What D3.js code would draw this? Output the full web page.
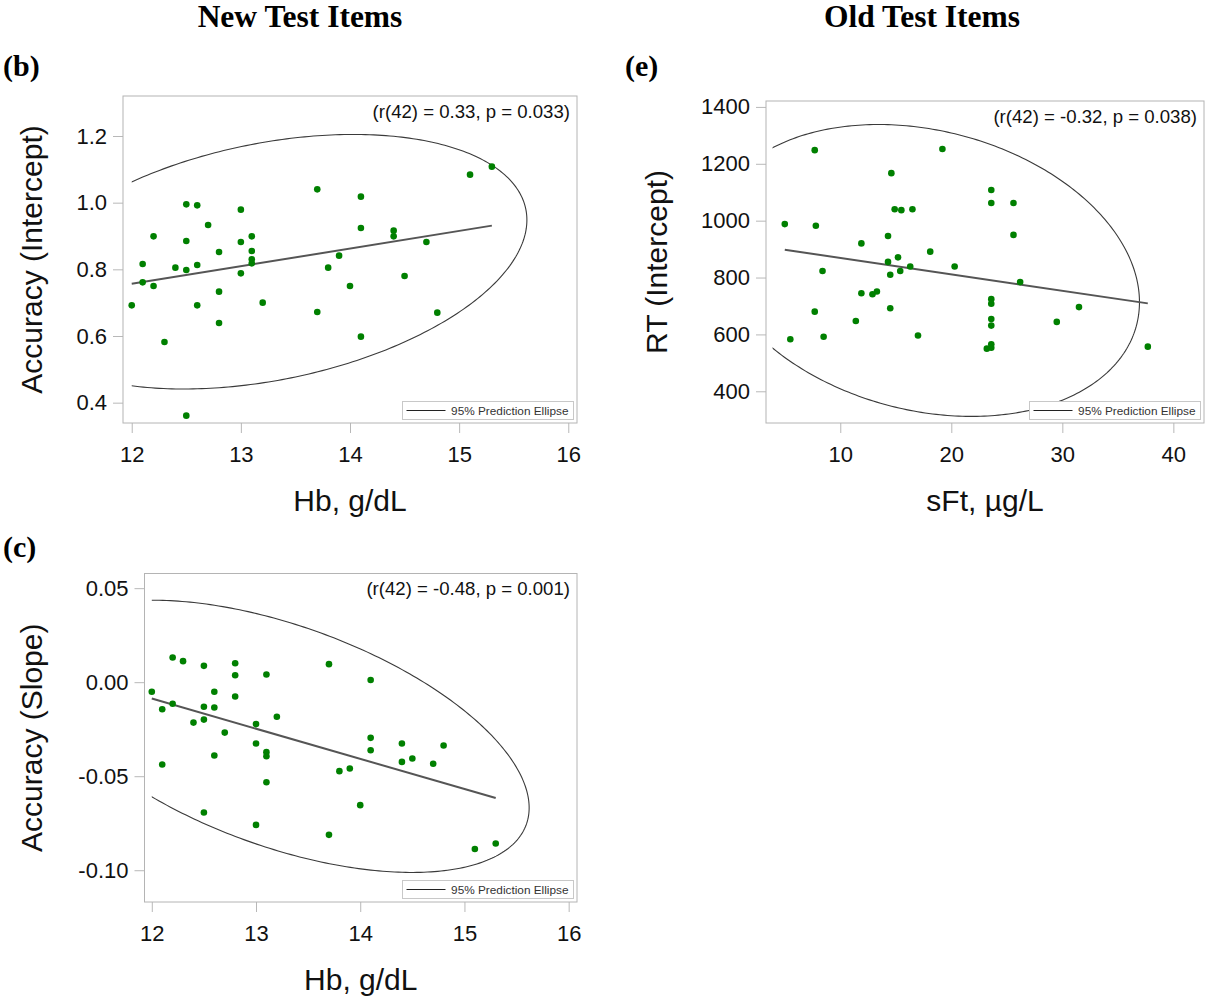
<!DOCTYPE html>
<html>
<head>
<meta charset="utf-8">
<script src="https://cdn.jsdelivr.net/npm/d3@7"></script>
<style>
  body { margin: 0; background: #fff; }
  svg { display: block; }
</style>
</head>
<body>
<div id="chart"></div>
<script>
// (b) new items: Hb vs accuracy intercept
const hbB = [12.0, 12.1, 12.1, 12.2, 12.2, 12.3, 12.4, 12.5, 12.5, 12.5, 12.5, 12.6, 12.6, 12.6, 12.7, 12.8, 12.8, 12.8,
  13.0, 13.0, 13.0, 13.1, 13.1, 13.1, 13.1, 13.2, 13.7, 13.7, 13.8, 13.9, 14.0, 14.1, 14.1, 14.1, 14.4, 14.4, 14.5,
  14.7, 14.8, 15.1, 15.3];
const accIntB = [0.692, 0.816, 0.761, 0.899, 0.750, 0.582, 0.805, 0.995, 0.885, 0.798, 0.361, 0.992, 0.813, 0.692,
  0.933, 0.852, 0.733, 0.639, 0.979, 0.882, 0.788, 0.899, 0.855, 0.830, 0.818, 0.700, 1.040, 0.672, 0.805, 0.841,
  0.750, 1.018, 0.924, 0.598, 0.916, 0.899, 0.780, 0.882, 0.670, 1.084, 1.108];

// (c) new items: Hb vs accuracy slope
const hbC = [12.0, 12.1, 12.1, 12.2, 12.2, 12.3, 12.4, 12.5, 12.5, 12.5, 12.5, 12.6, 12.6, 12.6, 12.7, 12.8, 12.8, 12.8,
  13.0, 13.0, 13.0, 13.1, 13.1, 13.1, 13.1, 13.2, 13.7, 13.7, 13.8, 13.9, 14.0, 14.1, 14.1, 14.1, 14.4, 14.4, 14.5,
  14.7, 14.8, 15.1, 15.3];
const accSlopeC = [-0.0051, -0.0144, -0.0438, 0.0131, -0.0115, 0.0112, -0.0215, 0.0087, -0.0131, -0.0199, -0.0693,
  -0.0051, -0.0135, -0.0390, -0.0268, 0.0101, 0.0037, -0.0076, -0.0223, -0.0326, -0.0759, 0.0041, -0.0372, -0.0394,
  -0.0532, -0.0184, 0.0096, -0.0812, -0.0473, -0.0459, -0.0654, 0.0012, -0.0296, -0.0362, -0.0326, -0.0424, -0.0406,
  -0.0434, -0.0337, -0.0887, -0.0858];

// (e) old items: sFt vs RT intercept
const sftE = [5.0, 5.5, 7.7, 7.8, 7.7, 8.4, 8.5, 11.4, 11.9, 11.9, 12.9, 13.3, 14.3, 14.3, 14.5, 14.5, 14.6, 14.9,
  15.2, 15.4, 15.5, 16.3, 16.5, 17.0, 18.1, 19.2, 20.3, 23.6, 23.6, 23.6, 23.6, 23.6, 23.6, 23.6, 23.6, 23.2, 25.6,
  25.6, 26.2, 29.5, 31.5, 37.7];
const rtIntE = [988, 583, 1248, 982, 680, 823, 592, 647, 920, 745, 741, 751, 946, 855, 810, 692, 1167, 1040, 871, 823,
  1037, 839, 1040, 596, 891, 1252, 839, 1108, 1062, 724, 708, 654, 631, 565, 553, 550, 1062, 950, 784, 644, 696, 557];

const ticksHb = [12, 13, 14, 15, 16];
const ticksAccInt = [0.4, 0.6, 0.8, 1.0, 1.2];
const ticksAccSlope = [-0.10, -0.05, 0.00, 0.05];
const ticksSft = [10, 20, 30, 40];
const ticksRt = [400, 600, 800, 1000, 1200, 1400];

const width = 1207;
const height = 998;
const sans = "'Liberation Sans', Arial, sans-serif";
const serif = "'Liberation Serif', 'Times New Roman', serif";

const svg = d3.select('#chart')
  .append('svg')
  .attr('width', width)
  .attr('height', height);

const panels = [
  { key: 'b', xs: hbB, ys: accIntB, frame: { l: 123, r: 577, t: 96, b: 423 },
    xDom: [11.92, 16.08], yDom: [0.339, 1.32], xTicks: ticksHb, yTicks: ticksAccInt,
    yFmt: d => d.toFixed(1), xClip: 12, stat: '(r(42) = 0.33, p = 0.033)',
    xLab: 'Hb, g/dL', yLab: 'Accuracy (Intercept)', yLabX: 42 },
  { key: 'e', xs: sftE, ys: rtIntE, frame: { l: 766, r: 1204, t: 101, b: 423 },
    xDom: [3.31, 42.76], yDom: [288.5, 1420.8], xTicks: ticksSft, yTicks: ticksRt,
    yFmt: d => d, xClip: 3.9, stat: '(r(42) = -0.32, p = 0.038)',
    xLab: 'sFt, µg/L', yLab: 'RT (Intercept)', yLabX: 667 },
  { key: 'c', xs: hbC, ys: accSlopeC, frame: { l: 144.5, r: 577, t: 573.5, b: 902 },
    xDom: [11.93, 16.08], yDom: [-0.1169, 0.0578], xTicks: ticksHb, yTicks: ticksAccSlope,
    yFmt: d => d.toFixed(2), xClip: 12, stat: '(r(42) = -0.48, p = 0.001)',
    xLab: 'Hb, g/dL', yLab: 'Accuracy (Slope)', yLabX: 42 }
];

// 95% prediction ellipse (bivariate normal) and OLS line from the data
function stats(xs, ys) {
  const n = xs.length;
  const mx = d3.mean(xs), my = d3.mean(ys);
  let sxx = 0, syy = 0, sxy = 0;
  xs.forEach((x, i) => {
    sxx += (x - mx) ** 2;
    syy += (ys[i] - my) ** 2;
    sxy += (x - mx) * (ys[i] - my);
  });
  sxx /= n - 1; syy /= n - 1; sxy /= n - 1;
  const df2 = n - 2;
  const f = (df2 / 2) * (Math.pow(0.05, -2 / df2) - 1);
  const c = Math.sqrt(2 * (n - 1) * (n + 1) / (n * df2) * f);
  return { n, mx, my, sxx, syy, sxy, c };
}

panels.forEach(p => {
  const f = p.frame;
  const x = d3.scaleLinear().domain(p.xDom).range([f.l, f.r]);
  const y = d3.scaleLinear().domain(p.yDom).range([f.b, f.t]);
  const g = svg.append('g');
  const s = stats(p.xs, p.ys);

  // axes
  const xAxis = g.append('g')
    .attr('transform', `translate(0,${f.b})`)
    .call(d3.axisBottom(x).tickValues(p.xTicks).tickFormat(d => d)
      .tickSize(10).tickSizeOuter(0).tickPadding(13));
  const yAxis = g.append('g')
    .attr('transform', `translate(${f.l},0)`)
    .call(d3.axisLeft(y).tickValues(p.yTicks).tickFormat(p.yFmt)
      .tickSize(10).tickSizeOuter(0).tickPadding(6));
  [xAxis, yAxis].forEach(a => {
    a.select('.domain').remove();
    a.selectAll('line').attr('stroke', '#b8b8b8');
    a.selectAll('text').attr('font-family', sans).attr('font-size', 22).attr('fill', '#111');
  });

  g.append('rect')
    .attr('x', f.l).attr('y', f.t)
    .attr('width', f.r - f.l).attr('height', f.b - f.t)
    .attr('fill', 'none').attr('stroke', '#b4b4b4');

  // ellipse, clipped at the axis minimum
  const clipId = 'clip-' + p.key;
  g.append('clipPath').attr('id', clipId)
    .append('rect')
    .attr('x', x(p.xClip)).attr('y', f.t)
    .attr('width', f.r - x(p.xClip)).attr('height', f.b - f.t);

  const l11 = Math.sqrt(s.sxx);
  const l21 = s.sxy / l11;
  const l22 = Math.sqrt(s.syy - l21 * l21);
  const ell = d3.range(0, 361).map(a => {
    const t = a * Math.PI / 180;
    return [s.mx + s.c * l11 * Math.cos(t), s.my + s.c * (l21 * Math.cos(t) + l22 * Math.sin(t))];
  });
  g.append('path')
    .datum(ell)
    .attr('clip-path', `url(#${clipId})`)
    .attr('fill', 'none')
    .attr('stroke', '#3a3a3a')
    .attr('stroke-width', 1.1)
    .attr('d', d3.line().x(d => x(d[0])).y(d => y(d[1])));

  // regression line
  const slope = s.sxy / s.sxx;
  const icpt = s.my - slope * s.mx;
  const ext = d3.extent(p.xs);
  g.append('path')
    .datum(ext.map(v => [v, icpt + slope * v]))
    .attr('fill', 'none')
    .attr('stroke', '#555')
    .attr('stroke-width', 2)
    .attr('d', d3.line().x(d => x(d[0])).y(d => y(d[1])));

  // points
  g.append('g')
    .attr('fill', '#008000')
    .selectAll('circle')
    .data(p.xs.map((v, i) => [v, p.ys[i]]))
    .join('circle')
      .attr('cx', d => x(d[0]))
      .attr('cy', d => y(d[1]))
      .attr('r', 3.3);

  // stat text
  g.append('text')
    .attr('x', f.r - 7).attr('y', f.t + 21.5)
    .attr('text-anchor', 'end')
    .attr('font-family', sans).attr('font-size', 18.6).attr('fill', '#111')
    .text(p.stat);

  // legend
  const lg = g.append('g').attr('transform', `translate(${f.r - 174.5},${f.b - 21.5})`);
  lg.append('rect').attr('width', 171).attr('height', 18)
    .attr('fill', '#fff').attr('stroke', '#c8c8c8');
  lg.append('line').attr('x1', 4).attr('x2', 43).attr('y1', 9).attr('y2', 9)
    .attr('stroke', '#222').attr('stroke-width', 1);
  lg.append('text').attr('x', 166).attr('y', 13.2)
    .attr('text-anchor', 'end')
    .attr('font-family', sans).attr('font-size', 11.8).attr('fill', '#333')
    .text('95% Prediction Ellipse');

  // axis labels
  g.append('text')
    .attr('x', (f.l + f.r) / 2).attr('y', f.b + 87.5)
    .attr('text-anchor', 'middle')
    .attr('font-family', sans).attr('font-size', 30).attr('fill', '#111')
    .text(p.xLab);
  g.append('text')
    .attr('transform', `translate(${p.yLabX},${(f.t + f.b) / 2}) rotate(-90)`)
    .attr('text-anchor', 'middle')
    .attr('font-family', sans).attr('font-size', 30).attr('fill', '#111')
    .text(p.yLab);
});

// headings and panel letters
const headings = [['New Test Items', 300, 27], ['Old Test Items', 922, 27]];
svg.selectAll('text.head')
  .data(headings)
  .join('text')
    .attr('class', 'head')
    .attr('x', d => d[1]).attr('y', d => d[2])
    .attr('text-anchor', 'middle')
    .attr('font-family', serif).attr('font-weight', 'bold').attr('font-size', 31.5)
    .text(d => d[0]);

const letters = [['(b)', 3, 76], ['(e)', 625, 76], ['(c)', 3, 557]];
svg.selectAll('text.letter')
  .data(letters)
  .join('text')
    .attr('class', 'letter')
    .attr('x', d => d[1]).attr('y', d => d[2])
    .attr('font-family', serif).attr('font-weight', 'bold').attr('font-size', 30)
    .text(d => d[0]);
</script>
</body>
</html>
